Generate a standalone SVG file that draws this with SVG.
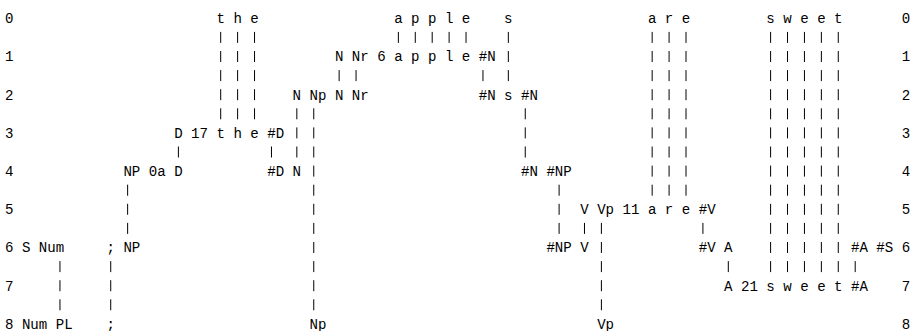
<svg xmlns="http://www.w3.org/2000/svg" width="912" height="331" viewBox="0 0 912 331">
<style>
text{font-family:"Liberation Mono","DejaVu Sans Mono",monospace;font-size:14.1px;fill:#000}
.c line{stroke:#000;stroke-width:1;stroke-dasharray:11 8.1}
</style>
<rect width="912" height="331" fill="#fff"/>
<g id="connectors" class="c">
<line x1="220.7" y1="31.9" x2="220.7" y2="119.3"/>
<line x1="237.62" y1="31.9" x2="237.62" y2="119.3"/>
<line x1="254.54" y1="31.9" x2="254.54" y2="119.3"/>
<line x1="398.36" y1="31.9" x2="398.36" y2="42.9"/>
<line x1="415.28" y1="31.9" x2="415.28" y2="42.9"/>
<line x1="432.2" y1="31.9" x2="432.2" y2="42.9"/>
<line x1="449.12" y1="31.9" x2="449.12" y2="42.9"/>
<line x1="466.04" y1="31.9" x2="466.04" y2="42.9"/>
<line x1="508.34" y1="31.9" x2="508.34" y2="81.1"/>
<line x1="339.14" y1="70.1" x2="339.14" y2="81.1"/>
<line x1="356.06" y1="70.1" x2="356.06" y2="81.1"/>
<line x1="482.96" y1="70.1" x2="482.96" y2="81.1"/>
<line x1="296.84" y1="108.3" x2="296.84" y2="157.5"/>
<line x1="313.76" y1="108.3" x2="313.76" y2="310.3"/>
<line x1="525.26" y1="108.3" x2="525.26" y2="157.5"/>
<line x1="178.4" y1="146.5" x2="178.4" y2="157.5"/>
<line x1="271.46" y1="146.5" x2="271.46" y2="157.5"/>
<line x1="127.64" y1="184.7" x2="127.64" y2="233.9"/>
<line x1="559.1" y1="184.7" x2="559.1" y2="233.9"/>
<line x1="652.16" y1="31.9" x2="652.16" y2="195.7"/>
<line x1="669.08" y1="31.9" x2="669.08" y2="195.7"/>
<line x1="686" y1="31.9" x2="686" y2="195.7"/>
<line x1="584.48" y1="222.9" x2="584.48" y2="233.9"/>
<line x1="601.4" y1="222.9" x2="601.4" y2="310.3"/>
<line x1="702.92" y1="222.9" x2="702.92" y2="233.9"/>
<line x1="770.6" y1="31.9" x2="770.6" y2="272.1"/>
<line x1="787.52" y1="31.9" x2="787.52" y2="272.1"/>
<line x1="804.44" y1="31.9" x2="804.44" y2="272.1"/>
<line x1="821.36" y1="31.9" x2="821.36" y2="272.1"/>
<line x1="838.28" y1="31.9" x2="838.28" y2="272.1"/>
<line x1="728.3" y1="261.1" x2="728.3" y2="272.1"/>
<line x1="855.2" y1="261.1" x2="855.2" y2="272.1"/>
<line x1="59.96" y1="261.1" x2="59.96" y2="310.3"/>
<line x1="110.72" y1="261.1" x2="110.72" y2="310.3"/>
</g>
<g id="row-labels">
<text x="4.97" y="23.1">0</text><text x="901.73" y="23.1">0</text>
<text x="4.97" y="61.3">1</text><text x="901.73" y="61.3">1</text>
<text x="4.97" y="99.5">2</text><text x="901.73" y="99.5">2</text>
<text x="4.97" y="137.7">3</text><text x="901.73" y="137.7">3</text>
<text x="4.97" y="175.9">4</text><text x="901.73" y="175.9">4</text>
<text x="4.97" y="214.1">5</text><text x="901.73" y="214.1">5</text>
<text x="4.97" y="252.3">6</text><text x="901.73" y="252.3">6</text>
<text x="4.97" y="290.5">7</text><text x="901.73" y="290.5">7</text>
<text x="4.97" y="328.7">8</text><text x="901.73" y="328.7">8</text>
</g>
<g id="row0">
<g id="n0-t"><text x="216.47" y="23.1">t</text></g>
<g id="n0-h"><text x="233.39" y="23.1">h</text></g>
<g id="n0-e"><text x="250.31" y="23.1">e</text></g>
<g id="n0-a"><text x="394.13" y="23.1">a</text></g>
<g id="n0-p1"><text x="411.05" y="23.1">p</text></g>
<g id="n0-p2"><text x="427.97" y="23.1">p</text></g>
<g id="n0-l"><text x="444.89" y="23.1">l</text></g>
<g id="n0-e2"><text x="461.81" y="23.1">e</text></g>
<g id="n0-s"><text x="504.11" y="23.1">s</text></g>
<g id="n0-a2"><text x="647.93" y="23.1">a</text></g>
<g id="n0-r"><text x="664.85" y="23.1">r</text></g>
<g id="n0-e3"><text x="681.77" y="23.1">e</text></g>
<g id="n0-s2"><text x="766.37" y="23.1">s</text></g>
<g id="n0-w"><text x="783.29" y="23.1">w</text></g>
<g id="n0-e4"><text x="800.21" y="23.1">e</text></g>
<g id="n0-e5"><text x="817.13" y="23.1">e</text></g>
<g id="n0-t2"><text x="834.05" y="23.1">t</text></g>
</g>
<g id="row1">
<g id="n1-N"><text x="334.91" y="61.3">N</text></g>
<g id="n1-Nr"><text x="351.83" y="61.3">Nr</text></g>
<g id="n1-6"><text x="377.21" y="61.3">6</text></g>
<g id="n1-a"><text x="394.13" y="61.3">a</text></g>
<g id="n1-p1"><text x="411.05" y="61.3">p</text></g>
<g id="n1-p2"><text x="427.97" y="61.3">p</text></g>
<g id="n1-l"><text x="444.89" y="61.3">l</text></g>
<g id="n1-e"><text x="461.81" y="61.3">e</text></g>
<g id="n1-hN"><text x="478.73" y="61.3">#N</text></g>
</g>
<g id="row2">
<g id="n2-N"><text x="292.61" y="99.5">N</text></g>
<g id="n2-Np"><text x="309.53" y="99.5">Np</text></g>
<g id="n2-N2"><text x="334.91" y="99.5">N</text></g>
<g id="n2-Nr"><text x="351.83" y="99.5">Nr</text></g>
<g id="n2-hN"><text x="478.73" y="99.5">#N</text></g>
<g id="n2-s"><text x="504.11" y="99.5">s</text></g>
<g id="n2-hN2"><text x="521.03" y="99.5">#N</text></g>
</g>
<g id="row3">
<g id="n3-D"><text x="174.17" y="137.7">D</text></g>
<g id="n3-17"><text x="191.09" y="137.7">17</text></g>
<g id="n3-t"><text x="216.47" y="137.7">t</text></g>
<g id="n3-h"><text x="233.39" y="137.7">h</text></g>
<g id="n3-e"><text x="250.31" y="137.7">e</text></g>
<g id="n3-hD"><text x="267.23" y="137.7">#D</text></g>
</g>
<g id="row4">
<g id="n4-NP"><text x="123.41" y="175.9">NP</text></g>
<g id="n4-0a"><text x="148.79" y="175.9">0a</text></g>
<g id="n4-D"><text x="174.17" y="175.9">D</text></g>
<g id="n4-hD"><text x="267.23" y="175.9">#D</text></g>
<g id="n4-N"><text x="292.61" y="175.9">N</text></g>
<g id="n4-hN"><text x="521.03" y="175.9">#N</text></g>
<g id="n4-hNP"><text x="546.41" y="175.9">#NP</text></g>
</g>
<g id="row5">
<g id="n5-V"><text x="580.25" y="214.1">V</text></g>
<g id="n5-Vp"><text x="597.17" y="214.1">Vp</text></g>
<g id="n5-11"><text x="622.55" y="214.1">11</text></g>
<g id="n5-a"><text x="647.93" y="214.1">a</text></g>
<g id="n5-r"><text x="664.85" y="214.1">r</text></g>
<g id="n5-e"><text x="681.77" y="214.1">e</text></g>
<g id="n5-hV"><text x="698.69" y="214.1">#V</text></g>
</g>
<g id="row6">
<g id="n6-S"><text x="21.89" y="252.3">S</text></g>
<g id="n6-Num"><text x="38.81" y="252.3">Num</text></g>
<g id="n6-semi"><text x="106.49" y="252.3">;</text></g>
<g id="n6-NP"><text x="123.41" y="252.3">NP</text></g>
<g id="n6-hNP"><text x="546.41" y="252.3">#NP</text></g>
<g id="n6-V"><text x="580.25" y="252.3">V</text></g>
<g id="n6-hV"><text x="698.69" y="252.3">#V</text></g>
<g id="n6-A"><text x="724.07" y="252.3">A</text></g>
<g id="n6-hA"><text x="850.97" y="252.3">#A</text></g>
<g id="n6-hS"><text x="876.35" y="252.3">#S</text></g>
</g>
<g id="row7">
<g id="n7-A"><text x="724.07" y="290.5">A</text></g>
<g id="n7-21"><text x="740.99" y="290.5">21</text></g>
<g id="n7-s"><text x="766.37" y="290.5">s</text></g>
<g id="n7-w"><text x="783.29" y="290.5">w</text></g>
<g id="n7-e"><text x="800.21" y="290.5">e</text></g>
<g id="n7-e2"><text x="817.13" y="290.5">e</text></g>
<g id="n7-t"><text x="834.05" y="290.5">t</text></g>
<g id="n7-hA"><text x="850.97" y="290.5">#A</text></g>
</g>
<g id="row8">
<g id="n8-Num"><text x="21.89" y="328.7">Num</text></g>
<g id="n8-PL"><text x="55.73" y="328.7">PL</text></g>
<g id="n8-semi"><text x="106.49" y="328.7">;</text></g>
<g id="n8-Np"><text x="309.53" y="328.7">Np</text></g>
<g id="n8-Vp"><text x="597.17" y="328.7">Vp</text></g>
</g>
</svg>
